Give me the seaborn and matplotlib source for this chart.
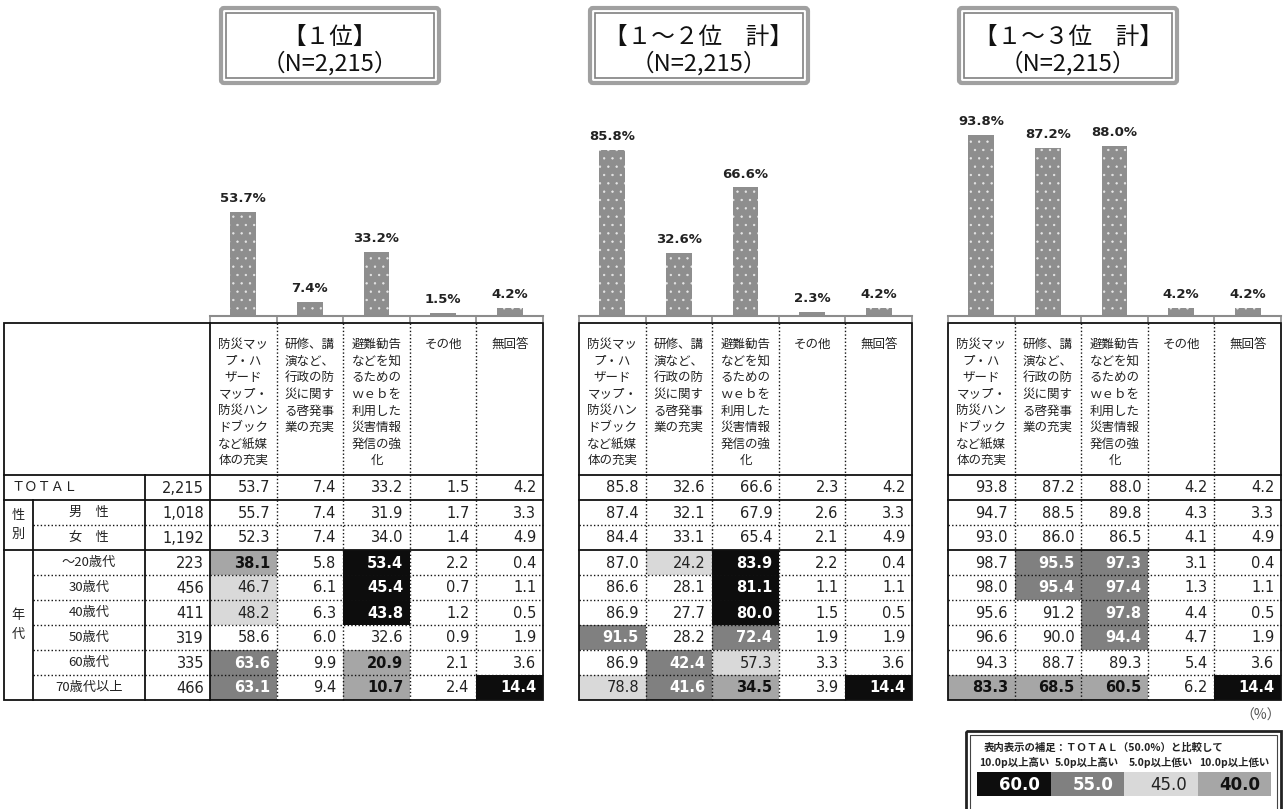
import numpy as np
import pandas as pd
import seaborn as sns
import matplotlib.pyplot as plt
from matplotlib.colors import ListedColormap
from matplotlib.patches import Rectangle, FancyBboxPatch

plt.rcParams['font.family'] = ['DejaVu Sans', 'Noto Sans CJK JP']
plt.rcParams['hatch.linewidth'] = 0.45
JP = ['Noto Sans CJK JP', 'DejaVu Sans']
NUM = ['DejaVu Sans', 'Noto Sans CJK JP']

# データ
items = ["防災マッ\nプ・ハ\nザード\nマップ・\n防災ハン\nドブック\nなど紙媒\n体の充実",
         "研修、講\n演など、\n行政の防\n災に関す\nる啓発事\n業の充実",
         "避難勧告\nなどを知\nるための\nｗｅｂを\n利用した\n災害情報\n発信の強\n化",
         "その他",
         "無回答"]
item_keys = ["map", "seminar", "web", "other", "na"]
row_labels = ["ＴＯＴＡＬ", "男　性", "女　性", "～20歳代", "30歳代", "40歳代",
              "50歳代", "60歳代", "70歳代以上"]
row_n = ["2,215", "1,018", "1,192", "223", "456", "411", "319", "335", "466"]

rank1 = [[53.7, 7.4, 33.2, 1.5, 4.2],
         [55.7, 7.4, 31.9, 1.7, 3.3],
         [52.3, 7.4, 34.0, 1.4, 4.9],
         [38.1, 5.8, 53.4, 2.2, 0.4],
         [46.7, 6.1, 45.4, 0.7, 1.1],
         [48.2, 6.3, 43.8, 1.2, 0.5],
         [58.6, 6.0, 32.6, 0.9, 1.9],
         [63.6, 9.9, 20.9, 2.1, 3.6],
         [63.1, 9.4, 10.7, 2.4, 14.4]]
rank12 = [[85.8, 32.6, 66.6, 2.3, 4.2],
          [87.4, 32.1, 67.9, 2.6, 3.3],
          [84.4, 33.1, 65.4, 2.1, 4.9],
          [87.0, 24.2, 83.9, 2.2, 0.4],
          [86.6, 28.1, 81.1, 1.1, 1.1],
          [86.9, 27.7, 80.0, 1.5, 0.5],
          [91.5, 28.2, 72.4, 1.9, 1.9],
          [86.9, 42.4, 57.3, 3.3, 3.6],
          [78.8, 41.6, 34.5, 3.9, 14.4]]
rank123 = [[93.8, 87.2, 88.0, 4.2, 4.2],
           [94.7, 88.5, 89.8, 4.3, 3.3],
           [93.0, 86.0, 86.5, 4.1, 4.9],
           [98.7, 95.5, 97.3, 3.1, 0.4],
           [98.0, 95.4, 97.4, 1.3, 1.1],
           [95.6, 91.2, 97.8, 4.4, 0.5],
           [96.6, 90.0, 94.4, 4.7, 1.9],
           [94.3, 88.7, 89.3, 5.4, 3.6],
           [83.3, 68.5, 60.5, 6.2, 14.4]]
titles = [("【１位】", "（N=2,215）"),
          ("【１～２位　計】", "（N=2,215）"),
          ("【１～３位　計】", "（N=2,215）")]

legend_title = "表内表示の補足：ＴＯＴＡＬ（50.0%）と比較して"
legend_labels = ["10.0p以上高い", "5.0p以上高い", "5.0p以上低い", "10.0p以上低い"]
legend_values = [60.0, 55.0, 45.0, 40.0]

# 網掛けの色 (0:なし, 1:10p以上高い, 2:5p以上高い, 3:5p以上低い, 4:10p以上低い)
shade_colors = ["#ffffff", "#0d0d0d", "#808080", "#d9d9d9", "#a6a6a6"]
cmap = ListedColormap(shade_colors)


def shade(v, total):
    d = round(v - total, 1)
    if d >= 10:
        return 1
    if d >= 5:
        return 2
    if d <= -10:
        return 4
    if d <= -5:
        return 3
    return 0


def text_style(code):
    if code in (1, 2):
        return "white", "bold"
    if code == 4:
        return "#111111", "bold"
    return "#222222", "normal"


W, H = 1284, 809
fig = plt.figure(figsize=(W / 100, H / 100), dpi=100)


def px_axes(x0, y0, x1, y1):
    return fig.add_axes([x0 / W, 1 - y1 / H, (x1 - x0) / W, (y1 - y0) / H])


panel_x = [210, 579, 948]
data_w = 333
col_w = data_w / 5
top, head_b, row_h, bottom = 323, 475, 25, 700
bar_top, base = 123, 316

ov = fig.add_axes([0, 0, 1, 1])
ov.set_xlim(0, W)
ov.set_ylim(H, 0)
ov.axis("off")
ov.set_zorder(5)

solid = dict(color="#111111", lw=1.3)
dotted = dict(color="#111111", lw=1.0, linestyle=(0, (1, 1.6)))

for k, data in enumerate([rank1, rank12, rank123]):
    x0 = panel_x[k]
    x1 = x0 + data_w
    total = data[0]
    codes = np.array([[shade(v, total[j]) if i > 0 else 0 for j, v in enumerate(row)]
                      for i, row in enumerate(data)])

    # 表 (網掛け)
    axh = px_axes(x0, head_b, x1, bottom)
    sns.heatmap(codes, cmap=cmap, vmin=-0.5, vmax=4.5, cbar=False,
                xticklabels=False, yticklabels=False, ax=axh)
    for i, row in enumerate(data):
        for j, v in enumerate(row):
            c, w = text_style(codes[i, j])
            axh.text(j + 0.9, i + 0.52, f"{v:.1f}", ha="right", va="center",
                     color=c, fontweight=w, fontsize=10.5, family=NUM)

    # 棒グラフ
    axb = px_axes(x0, bar_top, x1, base)
    df = pd.DataFrame({"item": item_keys, "pct": total})
    sns.barplot(data=df, x="item", y="pct", color="#8e8e8e", saturation=1,
                width=0.39, ax=axb)
    for p in axb.patches:
        p.set_hatch("..")
        p.set_edgecolor("#e8e8e8")
        p.set_linewidth(0)
    axb.bar_label(axb.containers[0], labels=[f"{v:.1f}%" for v in total],
                  padding=5, fontsize=9.5, fontweight="bold", color="#222222")
    axb.set_ylim(0, 100)
    axb.set_xlim(-0.5, 4.5)
    axb.set_facecolor("none")
    for s in ["top", "left", "right"]:
        axb.spines[s].set_visible(False)
    axb.spines["bottom"].set_color("#8c8c8c")
    axb.spines["bottom"].set_linewidth(1.5)
    axb.set_xticks(np.arange(-0.5, 5, 1))
    axb.set_xticklabels([])
    axb.set_yticks([])
    axb.tick_params(axis="x", length=4, width=1.2, color="#8c8c8c")
    axb.set_xlabel("")
    axb.set_ylabel("")

    # 罫線
    left = 4 if k == 0 else x0
    ov.add_patch(Rectangle((left, top), x1 - left, bottom - top, fill=False, **solid))
    for yy in [head_b, head_b + row_h, head_b + 3 * row_h]:
        ov.plot([left, x1], [yy, yy], **solid)
    inner_left = 33 if k == 0 else x0
    for r in [2] + list(range(4, 9)):
        yy = head_b + r * row_h
        ov.plot([inner_left, x1], [yy, yy], **dotted)
    for j in range(1, 5):
        xx = x0 + j * col_w
        ov.plot([xx, xx], [top, bottom], **dotted)
    if k == 0:
        ov.plot([x0, x0], [top, bottom], **solid)
        ov.plot([145, 145], [head_b, bottom], **solid)
        ov.plot([33, 33], [head_b + row_h, bottom], **solid)

    # 見出し
    for j, it in enumerate(items):
        ov.text(x0 + (j + 0.5) * col_w, 338, it, ha="center", va="top",
                fontsize=9, family=JP, linespacing=1.36, color="#222222")

    # タイトル枠
    bx0, bx1, by0, by1 = x0 + 11, x0 + 229, 8, 83
    ov.add_patch(FancyBboxPatch((bx0, by0), bx1 - bx0, by1 - by0,
                                boxstyle="round,pad=0,rounding_size=3",
                                fill=False, ec="#a0a0a0", lw=3))
    ov.add_patch(Rectangle((bx0 + 5, by0 + 5), bx1 - bx0 - 10, by1 - by0 - 10,
                           fill=False, ec="#808080", lw=1.2))
    ov.text((bx0 + bx1) / 2, 37, titles[k][0], ha="center", va="center",
            fontsize=17, family=JP, color="#111111")
    ov.text((bx0 + bx1) / 2, 63, titles[k][1], ha="center", va="center",
            fontsize=17, family=JP, color="#111111")

# 行ラベル
for i, lab in enumerate(row_labels):
    yy = head_b + (i + 0.5) * row_h
    if i == 0:
        ov.text(12, yy, lab, ha="left", va="center", fontsize=9.5, family=JP, color="#222222")
    else:
        ov.text(89, yy, lab, ha="center", va="center", fontsize=9.5, family=JP, color="#222222")
    ov.text(204, yy + 1, row_n[i], ha="right", va="center", fontsize=10.5,
            family=NUM, color="#222222")
ov.text(18, head_b + 2 * row_h, "性\n別", ha="center", va="center", fontsize=9.5,
        family=JP, linespacing=1.5, color="#222222")
ov.text(18, head_b + 6 * row_h, "年\n代", ha="center", va="center", fontsize=9.5,
        family=JP, linespacing=1.5, color="#222222")

ov.text(1281, 716, "（%）", ha="right", va="center", fontsize=10, family=JP, color="#555555")

# 凡例
ov.add_patch(Rectangle((966, 731), 315, 100, fill=False, ec="#222222", lw=2))
ov.add_patch(Rectangle((970, 735), 307, 100, fill=False, ec="#444444", lw=0.8))
ov.text(984, 748, legend_title, ha="left", va="center", fontsize=7.5, fontweight="bold",
        family=JP, color="#222222")
leg_x0, leg_x1 = 977, 1271
axl = px_axes(leg_x0, 772, leg_x1, 796)
sns.heatmap(np.array([[1, 2, 3, 4]]), cmap=cmap, vmin=-0.5, vmax=4.5, cbar=False,
            xticklabels=False, yticklabels=False, ax=axl)
for j, v in enumerate(legend_values):
    c, w = text_style(j + 1)
    axl.text(j + 0.86, 0.55, f"{v:.1f}", ha="right", va="center", color=c,
             fontweight=w, fontsize=12, family=NUM)
    ov.text(leg_x0 + (j + 0.5) * (leg_x1 - leg_x0) / 4, 763, legend_labels[j],
            ha="center", va="center", fontsize=7.5, fontweight="bold", family=JP,
            color="#222222")

fig.savefig("out.png", dpi=100)
